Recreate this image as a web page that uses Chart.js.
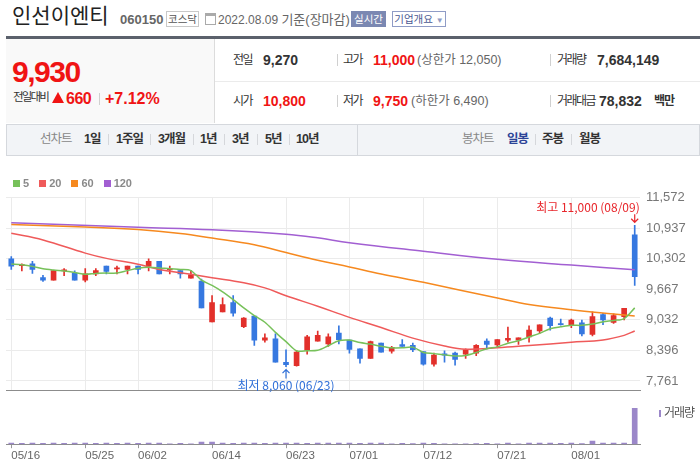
<!DOCTYPE html>
<html lang="ko">
<head>
<meta charset="UTF-8">
<title>인선이엔티 일봉 차트</title>
<script src="https://cdn.jsdelivr.net/npm/chart.js"></script>
<style>
  body { margin:0; width:700px; height:471px; overflow:hidden; position:relative; background:#fff;
         font-family:"Liberation Sans","Noto Sans CJK KR",sans-serif; color:#333; }
  .a { position:absolute; white-space:nowrap; line-height:1; }
  .lbl { font-size:12px; color:#333; letter-spacing:-1.5px; }
  .val { font-size:14px; font-weight:bold; color:#333; }
  .red { color:#f01414; }
  .sub { font-size:12.5px; color:#666; }
  .bar { position:absolute; width:1px; height:12px; background:#d0d0d0; }
  .tab { font-size:12.5px; font-weight:bold; color:#333; letter-spacing:-1px; }
  .tsep { position:absolute; width:1px; height:11px; background:#d5d7db; top:134px; }
  #legend { position:absolute; left:13px; top:177px; display:flex; align-items:center; z-index:2;
            font-size:11px; font-weight:bold; color:#8a8a8a; }
  #legend span.sq { width:7px; height:7px; margin-right:3px; display:inline-block; }
  #legend span.tx { margin-right:10px; }
  canvas { position:absolute; left:0; }
</style>
</head>
<body>
  <!-- 상단 종목 정보 -->
  <div class="a" style="left:12px;top:5px;font-size:21px;color:#222">인선이엔티</div>
  <div class="a" style="left:120px;top:13px;font-size:13px;font-weight:bold;color:#666">060150</div>
  <div class="a" style="left:166px;top:11px;width:31px;height:14px;border:1px solid #c9c9c9;font-size:10.5px;color:#555;text-align:center;line-height:14px">코스닥</div>
  <div class="a" style="left:205px;top:13px;width:9px;height:8px;border:1px solid #aaa;border-top:3px solid #aaa"></div>
  <div class="a" style="left:218px;top:13px;font-size:12px;color:#666">2022.08.09 <span style="font-size:13px">기준(장마감)</span></div>
  <div class="a" style="left:351px;top:11px;width:35px;height:16px;background:#7b88b2;color:#fff;font-size:10.5px;text-align:center;line-height:16px">실시간</div>
  <div class="a" style="left:392px;top:11px;width:52px;height:14px;border:1px solid #8f9cc6;color:#4a5a93;font-size:10.5px;text-align:center;line-height:14px">기업개요 <span style="font-size:8px;color:#8f9cc6">▼</span></div>

  <div class="a" style="left:6px;top:36px;width:694px;height:3px;background:#5b616c"></div>
  <div class="a" style="left:6px;top:39px;width:208px;height:84px;background:#f9f9f9"></div>
  <div class="a" style="left:214px;top:39px;width:1px;height:84px;background:#dcdcdc"></div>
  <div class="a" style="left:215px;top:81px;width:485px;height:1px;background:#ebebeb"></div>

  <div class="a red" style="left:12px;top:57px;font-size:30px;font-weight:bold;letter-spacing:-1.5px">9,930</div>
  <div class="a" style="left:13px;top:92px;font-size:11.5px;color:#333;letter-spacing:-1.8px">전일대비</div>
  <div class="a" style="left:52px;top:92px;width:0;height:0;border-left:6.5px solid transparent;border-right:6.5px solid transparent;border-bottom:11px solid #f01414"></div>
  <div class="a red" style="left:66px;top:91px;font-size:16px;font-weight:bold;letter-spacing:-0.5px">660</div>
  <div class="bar" style="left:99px;top:93px"></div>
  <div class="a red" style="left:105px;top:91px;font-size:16px;font-weight:bold">+7.12%</div>

  <div class="a lbl" style="left:233px;top:54px">전일</div>
  <div class="a val" style="left:263px;top:53px">9,270</div>
  <div class="bar" style="left:337px;top:54px"></div>
  <div class="a lbl" style="left:343px;top:54px">고가</div>
  <div class="a val red" style="left:373px;top:53px">11,000</div>
  <div class="a sub" style="left:417px;top:54px">(상한가 12,050)</div>
  <div class="bar" style="left:550px;top:54px"></div>
  <div class="a lbl" style="left:557px;top:54px">거래량</div>
  <div class="a val" style="left:597px;top:53px">7,684,149</div>

  <div class="a lbl" style="left:233px;top:95px">시가</div>
  <div class="a val red" style="left:263px;top:94px">10,800</div>
  <div class="bar" style="left:337px;top:95px"></div>
  <div class="a lbl" style="left:343px;top:95px">저가</div>
  <div class="a val red" style="left:373px;top:94px">9,750</div>
  <div class="a sub" style="left:411px;top:95px">(하한가 6,490)</div>
  <div class="bar" style="left:550px;top:95px"></div>
  <div class="a lbl" style="left:557px;top:95px">거래대금</div>
  <div class="a val" style="left:599px;top:94px">78,832</div>
  <div class="a" style="left:654px;top:95px;font-size:12px;font-weight:bold;color:#333;letter-spacing:-1px">백만</div>

  <!-- 기간 탭 -->
  <div class="a" style="left:6px;top:124px;width:692px;height:30px;border:1px solid #d5d8dd;background:#f2f4f7"></div>
  <div class="a" style="left:357px;top:125px;width:1px;height:30px;background:#d5d8dd"></div>
  <div class="a tab" style="left:40px;top:133px;color:#888;font-weight:normal">선차트</div>
  <div class="a tab" style="left:84px;top:133px">1일</div>
  <div class="tsep" style="left:108px"></div>
  <div class="a tab" style="left:116px;top:133px">1주일</div>
  <div class="tsep" style="left:150px"></div>
  <div class="a tab" style="left:158px;top:133px">3개월</div>
  <div class="tsep" style="left:193px"></div>
  <div class="a tab" style="left:200px;top:133px">1년</div>
  <div class="tsep" style="left:224px"></div>
  <div class="a tab" style="left:232px;top:133px">3년</div>
  <div class="tsep" style="left:257px"></div>
  <div class="a tab" style="left:265px;top:133px">5년</div>
  <div class="tsep" style="left:289px"></div>
  <div class="a tab" style="left:296px;top:133px">10년</div>
  <div class="a tab" style="left:462px;top:133px;color:#888;font-weight:normal">봉차트</div>
  <div class="a tab" style="left:507px;top:133px;color:#2c4497">일봉</div>
  <div class="tsep" style="left:535px"></div>
  <div class="a tab" style="left:542px;top:133px">주봉</div>
  <div class="tsep" style="left:571px"></div>
  <div class="a tab" style="left:579px;top:133px">월봉</div>

  <div id="legend"></div>
  <canvas id="priceChart" width="700" height="220" style="top:184px"></canvas>
  <canvas id="volChart" width="700" height="67" style="top:404px"></canvas>
  <div class="a" style="left:659px;top:410px;width:2px;height:7px;background:#9b87c9"></div>
  <div class="a" style="left:664px;top:407px;font-size:12px;color:#555;letter-spacing:-1px">거래량</div>

<script>
// 거래일
const dates = ['05/16','05/17','05/18','05/19','05/20','05/23','05/24','05/25','05/26','05/27',
  '05/30','05/31','06/02','06/03','06/07','06/08','06/09','06/10','06/13','06/14',
  '06/15','06/16','06/17','06/20','06/21','06/22','06/23','06/24','06/27','06/28',
  '06/29','06/30','07/01','07/04','07/05','07/06','07/07','07/08','07/11','07/12',
  '07/13','07/14','07/15','07/18','07/19','07/20','07/21','07/22','07/25','07/26',
  '07/27','07/28','07/29','08/01','08/02','08/03','08/04','08/05','08/08','08/09'];
const tickDates = ['05/16','05/25','06/02','06/14','06/23','07/01','07/12','07/21','08/01'];

// 시가 / 고가 / 저가 / 종가
const open  = [10300,10160,10200,9910,9860,10050,10000,9860,9990,10150,
  10090,10080,10150,10150,10250,10070,10060,9900,9840,8990,
  9200,9390,8890,9110,8610,8640,8150,8080,8400,8590,
  8530,8760,8610,8430,8230,8550,8380,8520,8500,8370,
  8110,8310,8340,8320,8340,8590,8510,8610,8610,8680,
  8800,9070,8940,8910,8970,8730,9140,8980,9100,10800];
const high  = [10350,10200,10250,9960,10060,10100,10050,10100,10100,10150,
  10150,10150,10150,10300,10250,10150,10060,10060,9880,9540,
  9490,9540,9080,9110,8740,8740,8410,8400,8710,8800,
  8740,8910,8610,8430,8590,8550,8480,8620,8550,8370,
  8340,8390,8360,8430,8520,8640,8620,8880,8660,8910,
  8930,9090,9050,9050,9030,9200,9170,9160,9270,11000];
const low   = [10080,10050,10000,9830,9860,9950,9860,9820,9950,9990,
  9990,9990,9990,10050,9990,9990,9900,9900,9280,8990,
  9200,9110,8870,8500,8570,8150,8060,8070,8320,8590,
  8480,8530,8340,8130,8230,8360,8340,8480,8370,8090,
  8070,8150,8090,8230,8290,8430,8470,8570,8520,8570,
  8750,8820,8920,8870,8700,8700,8930,8960,9030,9750];
const close = [10150,10170,10080,9860,10060,10060,9860,9990,10060,10040,
  10100,10150,10080,10250,9990,10080,9990,9970,9280,9390,
  9350,9170,9070,8610,8660,8150,8100,8360,8680,8710,
  8680,8620,8420,8230,8580,8360,8460,8480,8410,8110,
  8300,8300,8210,8410,8500,8520,8620,8650,8660,8820,
  8930,8910,8930,9030,8740,9100,9030,9120,9270,9930];
const volume = [220000,210000,230000,200000,240000,210000,220000,230000,210000,220000,
  200000,220000,210000,230000,220000,90000,210000,100000,450000,430000,
  220000,210000,230000,220000,210000,220000,230000,220000,210000,220000,
  230000,220000,220000,210000,230000,220000,100000,210000,110000,220000,
  210000,100000,100000,100000,110000,210000,100000,220000,100000,220000,
  230000,220000,210000,230000,120000,650000,230000,220000,240000,7684149];

// 이동평균선
const ma5 = [10197,10178,10145,10095,10068,10049,10018,9980,9999,10005,
  10005,10057,10107,10126,10114,10095,10082,10057,9857,9750,
  9616,9455,9282,9123,8983,8771,8580,8388,8388,8399,
  8495,8599,8611,8561,8528,8484,8451,8451,8465,8355,
  8330,8304,8279,8292,8355,8432,8470,8547,8599,8676,
  8752,8848,8887,8918,8918,8944,8994,9021,9060,9282];
const ma20Idx = [0,3,7,9,12,14,17,19,22,24,26,29,32,35,38,41,43,46,49,53,56,58,59];
const ma20Val = [10835,10695,10421,10312,10191,10082,9980,9909,9804,9698,9535,9315,9084,8873,8653,8490,8423,8451,8499,8566,8614,8710,8802];
const ma60Idx = [0,7,12,16,19,23,26,29,32,35,39,46,49,53,57,59];
const ma60Val = [11016,10964,10912,10830,10734,10594,10433,10274,10133,9986,9813,9487,9353,9244,9155,9113];
const ma120Idx = [0,12,19,26,29,32,39,46,53,59];
const ma120Val = [11054,10958,10907,10816,10740,10638,10460,10293,10172,10076];

const priceTicks = [7761,8396,9032,9667,10302,10937,11572];
const priceMin = 7569, priceMax = 11572;
const volMax = 8600000;

const maColors = { '5':'#77c15a', '20':'#ef5a5a', '60':'#f6891f', '120':'#a25fd2' };
const upColor = '#e2302b', downColor = '#3678e0';

// 범례
const legend = document.getElementById('legend');
Object.keys(maColors).forEach(k => {
  legend.insertAdjacentHTML('beforeend',
    '<span class="sq" style="background:' + maColors[k] + '"></span><span class="tx">' + k + '</span>');
});

const tickSet = new Set(tickDates.map(d => dates.indexOf(d)));
const candleColor = close.map((c, i) => c >= open[i] ? upColor : downColor);
const pts = (idx, val) => idx.map((i, k) => ({ x: dates[i], y: val[k] }));
const fmt = v => v.toLocaleString('en-US');

function maLine(label, data, tension) {
  return { type: 'line', label: label, data: data, borderColor: maColors[label], borderWidth: 1.5,
           pointRadius: 0, tension: tension, spanGaps: true, order: 0 };
}

// 최고/최저 표시
const markers = {
  id: 'markers',
  afterDatasetsDraw(chart) {
    const { ctx, scales: { x, y } } = chart;
    const hi = high.indexOf(Math.max(...high));
    const lo = low.indexOf(Math.min(...low));
    ctx.save();
    ctx.font = '12px "Noto Sans CJK KR"';
    ctx.textBaseline = 'middle';
    ctx.lineWidth = 1.2;

    let px = x.getPixelForValue(hi), py = y.getPixelForValue(high[hi]);
    ctx.fillStyle = ctx.strokeStyle = '#e8262b';
    ctx.textAlign = 'right';
    ctx.fillText('최고 ' + fmt(high[hi]) + ' (' + dates[hi] + ')', px + 5, py - 18);
    ctx.beginPath();
    ctx.moveTo(px, py - 11); ctx.lineTo(px, py - 3);
    ctx.moveTo(px - 3.5, py - 6.5); ctx.lineTo(px, py - 3); ctx.lineTo(px + 3.5, py - 6.5);
    ctx.stroke();

    px = x.getPixelForValue(lo); py = y.getPixelForValue(low[lo]);
    ctx.fillStyle = ctx.strokeStyle = '#2f6fd8';
    ctx.textAlign = 'center';
    ctx.fillText('최저 ' + fmt(low[lo]) + ' (' + dates[lo] + ')', px, py + 18.5);
    ctx.beginPath();
    ctx.moveTo(px, py + 12); ctx.lineTo(px, py + 3);
    ctx.moveTo(px - 3.5, py + 6.5); ctx.lineTo(px, py + 3); ctx.lineTo(px + 3.5, py + 6.5);
    ctx.stroke();
    ctx.restore();
  }
};

new Chart(document.getElementById('priceChart'), {
  type: 'bar',
  data: {
    labels: dates,
    datasets: [
      maLine('5', ma5, 0.3),
      maLine('20', pts(ma20Idx, ma20Val), 0.4),
      maLine('60', pts(ma60Idx, ma60Val), 0.4),
      maLine('120', pts(ma120Idx, ma120Val), 0.4),
      { label: 'wick', data: dates.map((d, i) => [low[i], high[i]]), backgroundColor: candleColor,
        barThickness: 1, grouped: false, order: 2 },
      { label: 'body', data: dates.map((d, i) => [open[i], close[i]]), backgroundColor: candleColor,
        barThickness: 5, grouped: false, minBarLength: 1.2, order: 1 }
    ]
  },
  options: {
    responsive: false,
    animation: false,
    layout: { padding: { left: 6, top: 8, right: 0, bottom: 3 } },
    plugins: { legend: { display: false }, tooltip: { enabled: false } },
    scales: {
      x: {
        offset: true,
        grid: { offset: false, drawTicks: false, color: c => tickSet.has(c.index) ? '#ebebeb' : 'transparent' },
        ticks: { display: false, autoSkip: false },
        border: { color: '#8c8c8c' }
      },
      y: {
        position: 'right',
        min: priceMin,
        max: priceMax,
        afterBuildTicks: s => { s.ticks = priceTicks.map(v => ({ value: v })); },
        afterFit: s => { s.width = 60; },
        grid: { color: '#ebebeb', drawTicks: false },
        border: { display: false },
        ticks: { padding: 6, color: '#777', font: { size: 13, family: 'Liberation Sans' }, callback: v => fmt(v) }
      }
    }
  },
  plugins: [markers]
});

new Chart(document.getElementById('volChart'), {
  type: 'bar',
  data: {
    labels: dates,
    datasets: [{ label: '거래량', data: volume, backgroundColor: '#9b87c9', barThickness: 5 }]
  },
  options: {
    responsive: false,
    animation: false,
    layout: { padding: { left: 6, top: 0, right: 0, bottom: 7 } },
    plugins: { legend: { display: false }, tooltip: { enabled: false } },
    scales: {
      x: {
        offset: true,
        grid: { offset: false, drawOnChartArea: false, tickLength: 4,
                color: c => tickSet.has(c.index) ? '#999' : 'transparent' },
        ticks: { autoSkip: false, maxRotation: 0, align: 'start', padding: 1, color: '#666',
                 font: { size: 11.5, family: 'Liberation Sans' },
                 callback: (v, i) => tickSet.has(i) ? dates[i] : '' },
        border: { color: '#8c8c8c' }
      },
      y: {
        position: 'right', min: 0, max: volMax,
        ticks: { display: false }, grid: { display: false }, border: { display: false },
        afterFit: s => { s.width = 60; }
      }
    }
  }
});
</script>
</body>
</html>
